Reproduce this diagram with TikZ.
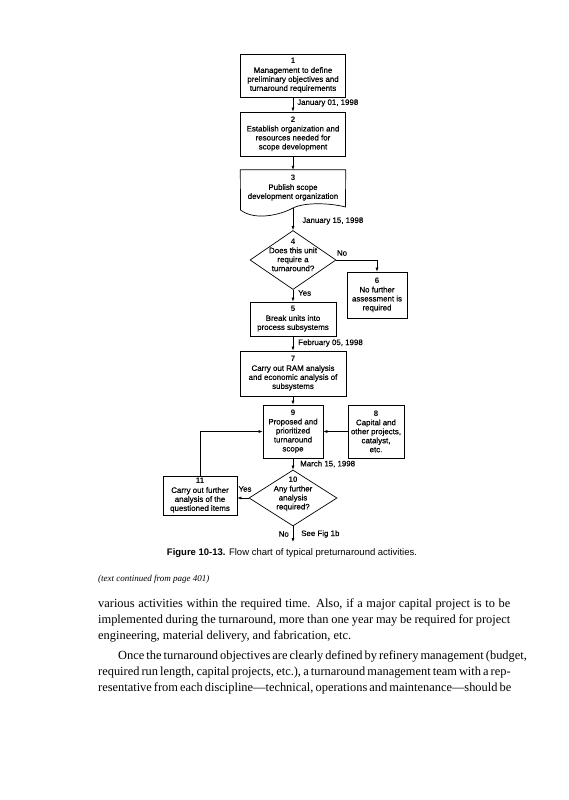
\documentclass[tikz,border=0pt]{standalone}
\usepackage{fontspec}
\setmainfont{Liberation Serif}
\setsansfont{Liberation Sans}
\newfontfamily\chartfam{Liberation Sans}[FakeBold=0.3]
\usetikzlibrary{shapes.geometric,arrows.meta}
\newcommand\chartfnt{\chartfam\fontsize{7.9}{9}\selectfont}
\newcommand\bodyfnt{\rmfamily\fontsize{12.4}{16}\selectfont}
\newcommand\nb[1]{{\sffamily\bfseries #1}}
\tikzset{
  box/.style={draw, line width=0.7pt, rectangle, inner sep=0pt, align=center, font=\chartfnt},
  dia/.style={draw, line width=0.7pt, diamond, inner sep=0pt},
  arr/.style={-{Latex[length=4pt,width=3pt]}, line width=0.6pt},
  lbl/.style={font=\chartfnt, inner sep=0pt, align=center},
  bodyline/.style={font=\bodyfnt, inner sep=0pt, anchor=base west},
}
\begin{document}
\begin{tikzpicture}[x=1pt,y=-1pt]
\fill[white] (0,0) rectangle (568,800);
\useasboundingbox (0,0) rectangle (568,800);

% boxes
\node[box, minimum width=105pt, minimum height=43pt] (b1) at (293,75.5)
  {\nb{1}\\Management to define\\preliminary objectives and\\turnaround requirements};
\node[box, minimum width=105pt, minimum height=44pt] (b2) at (293,134)
  {\nb{2}\\Establish organization and\\resources needed for\\scope development};
\node[lbl, minimum width=105pt, minimum height=36pt] (b3) at (293,188)
  {\nb{3}\\Publish scope\\development organization};
\draw[line width=0.7pt] (b3.north west) -- (b3.north east) -- (345.5,207)
  .. controls (330,203) and (305,202) .. (293,208)
  .. controls (280,215) and (255,221) .. (240.5,210) -- cycle;
\coordinate (w3) at (293,208);

\node[dia, minimum width=86pt, minimum height=59pt] (d4) at (293,260) {};
\node[lbl] (t4) at (293,255) {\nb{4}\\Does this unit\\require a\\turnaround?};
\node[box, minimum width=60pt, minimum height=46pt] (b6) at (377,295)
  {\nb{6}\\No further\\assessment is\\required};
\node[box, minimum width=86pt, minimum height=34pt] (b5) at (293,319)
  {\nb{5}\\Break units into\\process subsystems};
\node[box, minimum width=106pt, minimum height=45pt] (b7) at (293,373.5)
  {\nb{7}\\Carry out RAM analysis\\and economic analysis of\\subsystems};
\node[box, minimum width=60pt, minimum height=53pt] (b9) at (293,431.5)
  {\nb{9}\\Proposed and\\prioritized\\turnaround\\scope};
\node[box, minimum width=56pt, minimum height=53pt] (b8) at (376,431.5)
  {\nb{8}\\Capital and\\other projects,\\catalyst,\\etc.};
\node[dia, minimum width=88pt, minimum height=56pt] (d10) at (293,498) {};
\node[lbl] (t10) at (293,494) {\nb{10}\\Any further\\analysis\\required?};
\node[box, minimum width=74pt, minimum height=39pt] (b11) at (200,495.5)
  {\nb{11}\\Carry out further\\analysis of the\\questioned items};
\coordinate (e10) at (293,542);

% connectors
\draw[arr] (b1) -- (b2);
\draw[arr] (b2) -- (b3.north);
\draw[arr] (w3) -- (d4.north);
\draw[arr] (d4.east) -| (b6.north);
\draw[arr] (d4.south) -- (b5.north);
\draw[arr] (b5) -- (b7);
\draw[arr] (b7) -- (b9);
\draw[arr] (b8) -- (b9);
\draw[arr] (b9.south) -- (d10.north);
\draw[arr] (d10.west) -- (d10.west -| b11.east);
\draw[arr] (b11.north) |- (b9.west);
\draw[arr] (d10.south) -- (e10);

% labels
\node[lbl, anchor=west] (l1) at (297,103) {January 01, 1998};
\node[lbl, anchor=west] (l2) at (302,221) {January 15, 1998};
\node[lbl] (lno4) at (342,253) {No};
\node[lbl, anchor=west] (lyes4) at (298,293) {Yes};
\node[lbl, anchor=west] (l3) at (298,343) {February 05, 1998};
\node[lbl, anchor=west] (l4) at (300,464) {March 15, 1998};
\node[lbl] (lyes10) at (245,489) {Yes};
\node[lbl, anchor=east] (lno10) at (289,534) {No};
\node[lbl, anchor=west] (lsee) at (301,534) {See Fig 1b};

% caption
\node[inner sep=0pt, font=\sffamily\fontsize{9.5}{11}\selectfont, anchor=base] (cap) at (292,555)
  {\textbf{Figure 10-13.} Flow chart of typical preturnaround activities.};

% body text
\node[inner sep=0pt, anchor=base west, font=\rmfamily\itshape\fontsize{9}{11}\selectfont] (cont) at (98,581)
  {(text continued from page 401)};
\node[bodyline] (p1) at (98,607) {\makebox[412pt][s]{various activities within the required time. Also, if a major capital project is to be}};
\node[bodyline] (p2) at (98,623) {\makebox[412pt][s]{implemented during the turnaround, more than one year may be required for project}};
\node[bodyline] (p3) at (98,639) {engineering, material delivery, and fabrication, etc.};
\node[bodyline] (p4) at (98,659) {\makebox[412pt][s]{\hspace*{20pt}Once the turnaround objectives are clearly defined by refinery management (budget,}};
\node[bodyline] (p5) at (98,675) {\makebox[412pt][s]{required run length, capital projects, etc.), a turnaround management team with a rep-}};
\node[bodyline] (p6) at (98,691) {\makebox[412pt][s]{resentative from each discipline---technical, operations and maintenance---should be}};
\end{tikzpicture}
\end{document}
